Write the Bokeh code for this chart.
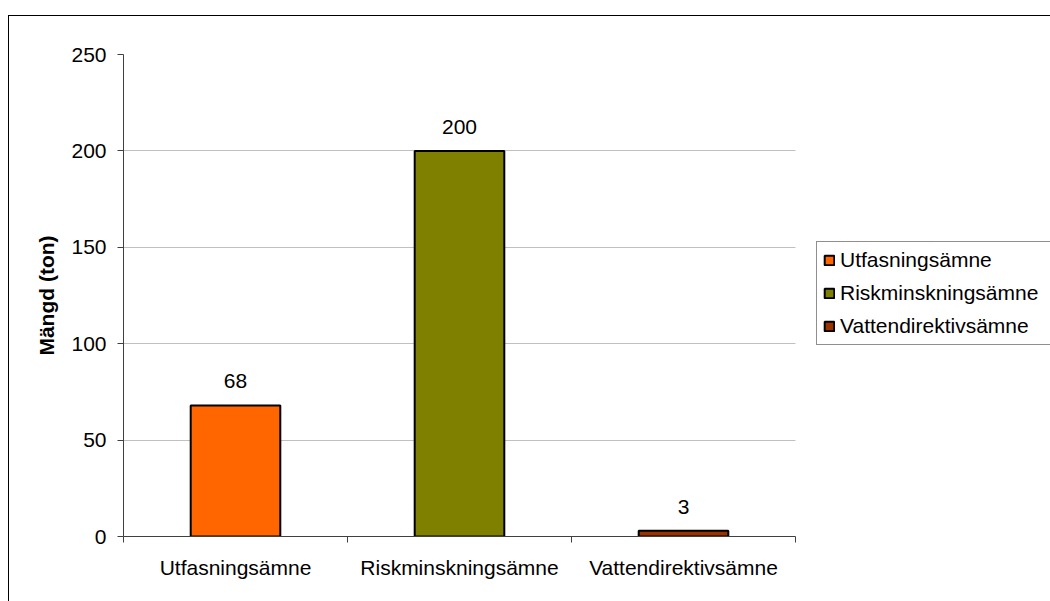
from bokeh.plotting import figure
from bokeh.models import (ColumnDataSource, FixedTicker, Legend, LegendItem,
                          LabelSet, Range1d)
from bokeh.core.properties import value
from bokeh.embed import file_html
from bokeh.resources import INLINE

categories = ["Utfasningsämne", "Riskminskningsämne", "Vattendirektivsämne"]
values = [68, 200, 3]
colors = ["#FF6600", "#808000", "#993300"]
y_ticks = [0, 50, 100, 150, 200, 250]

FONT = "Liberation Sans"
FS = "21px"

W, H = 1042, 586
BL, BT, BB = 114, 38, 66
CAT_PX = 672  # pixel width of the 3 category slots
frame_w = W - BL
x_end = len(categories) * frame_w / CAT_PX

xpos = [i + 0.5 for i in range(len(categories))]
src = ColumnDataSource(dict(x=xpos, top=values, lbl=[str(v) for v in values]))

p = figure(width=W, height=H, output_backend="svg", toolbar_location=None,
           x_range=Range1d(0, x_end), y_range=Range1d(0, 250),
           min_border_left=BL, min_border_top=BT, min_border_right=0,
           min_border_bottom=BB)
p.styles = {"margin-left": "8px", "margin-top": "15px",
            "border-left": "1px solid black", "border-top": "1px solid black"}
p.outline_line_color = None
p.background_fill_color = "white"
p.border_fill_color = "white"

renderers = []
for i in range(len(categories)):
    r = p.vbar(x=[xpos[i]], top=[values[i]], width=0.4, bottom=0,
               fill_color=colors[i], line_color="black", line_width=2)
    renderers.append(r)

labels = LabelSet(x="x", y="top", text="lbl", source=src, text_align="center",
                  text_baseline="bottom", y_offset=17, text_font=value(FONT),
                  text_font_size=value(FS), text_color="black")
p.add_layout(labels)

# axes
p.yaxis.ticker = FixedTicker(ticks=y_ticks)
p.yaxis.axis_line_color = "#404040"
p.yaxis.major_tick_line_color = "#404040"
p.yaxis.major_tick_out = 6
p.yaxis.major_tick_in = 0
p.yaxis.minor_tick_line_color = None
p.yaxis.major_label_text_font = FONT
p.yaxis.major_label_text_font_size = FS
p.yaxis.major_label_text_color = "black"
p.yaxis.major_label_standoff = 11
p.yaxis.axis_label = "Mängd (ton)"
p.yaxis.axis_label_text_font = FONT
p.yaxis.axis_label_text_font_style = "bold"
p.yaxis.axis_label_text_font_size = "21px"
p.yaxis.axis_label_text_color = "black"
p.yaxis.axis_label_standoff = 10

p.xaxis.ticker = FixedTicker(ticks=xpos, minor_ticks=list(range(len(categories) + 1)))
p.xaxis.bounds = (0, len(categories))
p.xaxis.major_label_overrides = {xpos[i]: categories[i] for i in range(len(categories))}
p.xaxis.axis_line_color = "#404040"
p.xaxis.major_tick_line_color = None
p.xaxis.minor_tick_line_color = "#404040"
p.xaxis.minor_tick_out = 6
p.xaxis.minor_tick_in = 0
p.xaxis.major_label_text_font = FONT
p.xaxis.major_label_text_font_size = FS
p.xaxis.major_label_text_color = "black"
p.xaxis.major_label_standoff = 13

p.xgrid.grid_line_color = None
p.ygrid.ticker = FixedTicker(ticks=y_ticks)
p.ygrid.grid_line_color = "#c0c0c0"
p.ygrid.cross_bounds = (0, len(categories))

legend = Legend(items=[LegendItem(label=categories[i], renderers=[renderers[i]])
                       for i in range(len(categories))],
                location=(693, 191))
legend.border_line_color = "#202020"
legend.border_line_width = 1
legend.background_fill_alpha = 1
legend.glyph_width = 12
legend.glyph_height = 12
legend.label_text_font = FONT
legend.label_text_font_size = FS
legend.label_text_color = "black"
legend.label_standoff = 5
legend.label_width = 220
legend.padding = 6
legend.spacing = 9
legend.margin = 0
legend.label_height = 21
p.add_layout(legend, "center")

open("out.html", "w").write(file_html(p, INLINE))
